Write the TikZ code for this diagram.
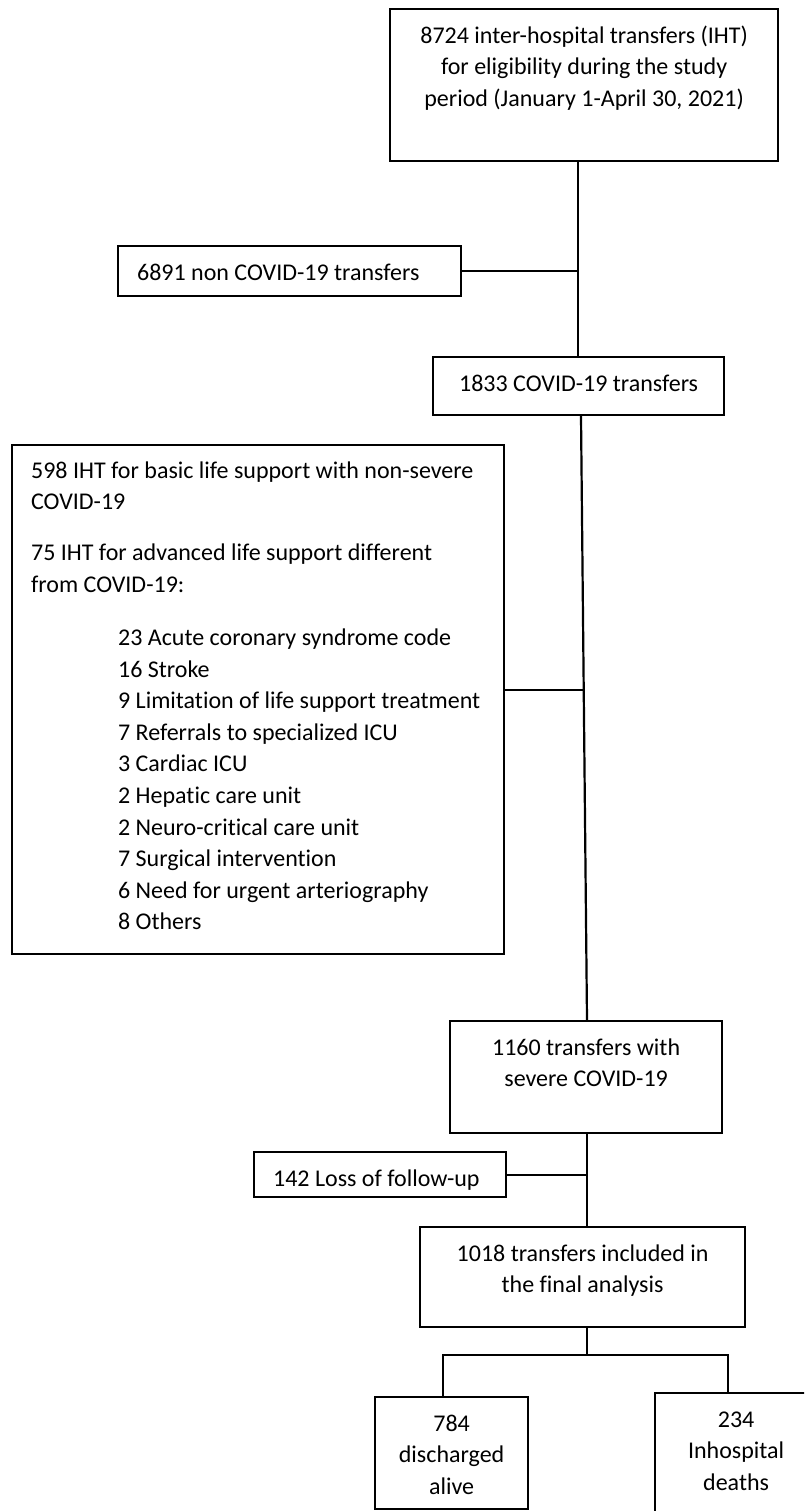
\documentclass[tikz,border=0pt]{standalone}
\usepackage{fontspec}
\setmainfont{Carlito}[Ligatures={NoCommon}]
\usetikzlibrary{positioning}

% box contents: width, height, text (centred / left)
\newcommand{\boxC}[3]{\parbox[c][#2][t]{#1}{\centering\vspace*{12pt}\strut #3}}
\newcommand{\boxL}[3]{\parbox[c][#2][t]{#1}{\vspace*{12pt}\leftskip=19pt\strut #3}}

\begin{document}
\begin{tikzpicture}
  [x=1pt,y=-1pt,
   boxN/.style={draw,line width=2.2pt,inner sep=0pt,anchor=north west,
                font=\fontsize{24}{31.6}\selectfont},
   line width=2.2pt]

  \useasboundingbox (0,0) rectangle (804,1511);
  \fill[white] (0,0) rectangle (804,1511);
  \clip (0,0) rectangle (804,1511);

  \node[boxN] (top) at (389,8) {\boxC{388pt}{152pt}{8724 inter-hospital transfers (IHT)\\
    for eligibility during the study\\ period (January 1-April 30, 2021)}};
  \node[boxN] (non) at (117,245) {\boxL{343pt}{50pt}{6891 non COVID-19 transfers}};
  \node[boxN] (covid) at (432,356) {\boxC{291pt}{58pt}{1833 COVID-19 transfers}};

  \node[boxN] (excl) at (11,444) {\parbox[c][509pt][t]{492pt}{\vspace*{11pt}\leftskip=19pt
    \strut 598 IHT for basic life support with non-severe\\ COVID-19\\[19.4pt]
    75 IHT for advanced life support different\\ from COVID-19:\par
    \vspace{21.4pt}\leftskip=106pt
    23 Acute coronary syndrome code\\
    16 Stroke\\
    9 Limitation of life support treatment\\
    7 Referrals to specialized ICU\\
    3 Cardiac ICU\\
    2 Hepatic care unit\\
    2 Neuro-critical care unit\\
    7 Surgical intervention\\
    6 Need for urgent arteriography\\
    8 Others}};

  \node[boxN] (sev) at (449,1020) {\boxC{272pt}{112pt}{1160 transfers with\\ severe COVID-19}};
  \node[boxN] (loss) at (253,1151) {\boxL{252pt}{45pt}{142 Loss of follow-up}};
  \node[boxN] (final) at (419,1226) {\boxC{325pt}{100pt}{1018 transfers included in\\ the final analysis}};
  \node[boxN] (alive) at (374,1396) {\boxC{153pt}{112pt}{784\\ discharged\\ alive}};
  \node[boxN] (dead) at (654,1392) {\boxC{162pt}{124pt}{234\\ Inhospital\\ deaths}};

  % trunk
  \coordinate (t1) at (578,0);
  \coordinate (t2) at (581,0);
  \coordinate (t3) at (587,0);
  \coordinate (j2) at (584,690);
  \coordinate (b)  at (587,1355);
  \coordinate (bl) at (443,1355);
  \coordinate (br) at (728,1355);

  \draw (top.south -| t1) -- (covid.north -| t1);
  \draw (non.east) -- (non.east -| t1);

  \draw (covid.south -| t2) -- (sev.north -| t3);
  \draw (excl.east |- j2) -- (j2);

  \draw (sev.south -| t3) -- (final.north -| t3);
  \draw (loss.east) -- (loss.east -| t3);

  \draw (final.south -| b) -- (b);
  \draw (alive.north -| bl) -- (bl) -- (br) -- (dead.north -| br);
\end{tikzpicture}
\end{document}
